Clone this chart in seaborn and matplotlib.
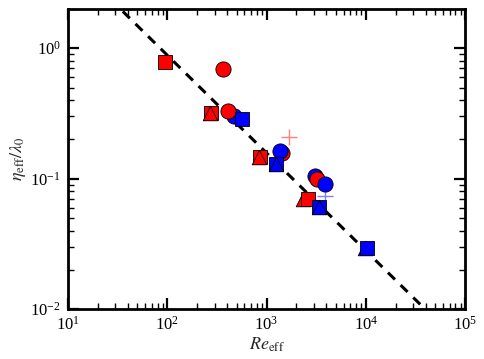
import numpy as np
import pandas as pd
import matplotlib
matplotlib.use("Agg")
import matplotlib.pyplot as plt
import seaborn as sns

# ---- data ----
# (drawing order matters for overlaps)
pt_re = [95, 276, 270, 363, 470, 407, 565, 857, 840, 1430, 1365, 1245, 1245,
         3100, 3213, 3870, 2330, 2613, 3374, 3374, 9800, 10260]
pt_eta = [0.78, 0.32, 0.32, 0.69, 0.30, 0.33, 0.286, 0.146, 0.146, 0.157, 0.162, 0.129, 0.129,
          0.105, 0.10, 0.091, 0.0697, 0.0697, 0.0605, 0.0605, 0.0293, 0.0293]
pt_color = ["red", "red", "red", "red", "blue", "red", "blue", "red", "red", "red", "blue", "blue", "blue",
            "blue", "red", "blue", "red", "red", "blue", "blue", "blue", "blue"]
pt_marker = ["s", "s", "^", "o", "o", "o", "s", "s", "^", "o", "o", "s", "^",
             "o", "o", "o", "^", "s", "s", "^", "^", "s"]

plus_re = [1683, 3870]
plus_eta = [0.21, 0.073]
plus_color = ["red", "blue"]

line_re = [10, 1e5]
line_eta = [4.98, 0.00498]

# ---- style ----
sns.set_theme(style="ticks")
plt.rcParams["font.family"] = ["Liberation Serif", "DejaVu Serif"]
plt.rcParams["mathtext.fontset"] = "stix"

fig = plt.figure(figsize=(4.85, 3.59), dpi=100)
ax = fig.add_axes([0.140, 0.139, 0.819, 0.836])

df = pd.DataFrame({"Re": pt_re, "eta": pt_eta, "c": pt_color, "m": pt_marker})
for i, row in df.iterrows():
    sub = df.iloc[[i]]
    sns.scatterplot(data=sub, x="Re", y="eta", ax=ax, marker=row["m"],
                    color=row["c"], s=110 if row["m"] != "o" else 120,
                    edgecolor="black", linewidth=0.6, zorder=3 + i * 0.01, legend=False)

pdf = pd.DataFrame({"Re": plus_re, "eta": plus_eta, "c": plus_color})
for i, row in pdf.iterrows():
    sns.scatterplot(data=pdf.iloc[[i]], x="Re", y="eta", ax=ax, marker="+",
                    color=row["c"], alpha=0.5, s=140, linewidth=1.0, zorder=4, legend=False)

ldf = pd.DataFrame({"Re": line_re, "eta": line_eta})
sns.lineplot(data=ldf, x="Re", y="eta", ax=ax, color="black", linewidth=2.2,
             dashes=False, zorder=2)
ax.lines[-1].set_dashes([3.2, 2.6])

ax.set_xscale("log")
ax.set_yscale("log")
ax.set_xlim(10, 1e5)
ax.set_ylim(1e-2, 2.0)

ax.set_xlabel(r"$Re_{\rm eff}$", fontsize=13, labelpad=1)
ax.set_ylabel(r"$\eta_{\rm eff}/\lambda_0$", fontsize=13, labelpad=2)

for s in ax.spines.values():
    s.set_linewidth(2.0)
    s.set_color("black")
ax.tick_params(which="both", direction="in", top=True, right=True, colors="black",
               labelsize=12)
ax.tick_params(which="major", length=8, width=1.6, pad=5)
ax.tick_params(which="minor", length=4, width=1.0)

fig.savefig("out.png", dpi=100)
